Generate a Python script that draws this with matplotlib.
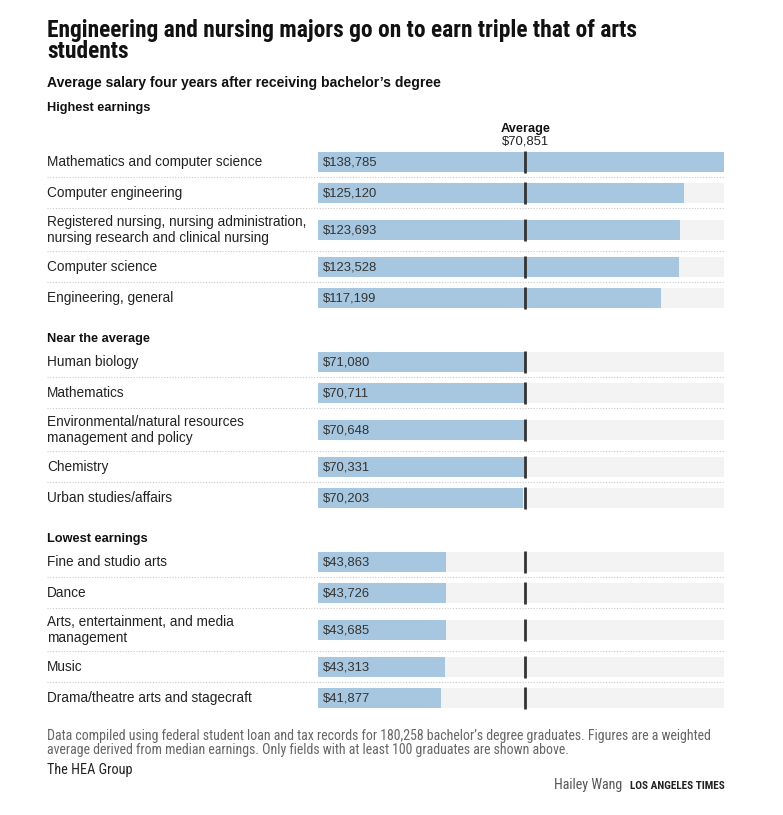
import matplotlib
matplotlib.use("Agg")
import matplotlib.pyplot as plt
import matplotlib.transforms as mtransforms
from matplotlib import font_manager

# data
groups = ["Highest earnings", "Near the average", "Lowest earnings"]
majors_high = ["Mathematics and computer science", "Computer engineering",
               "Registered nursing, nursing administration,\nnursing research and clinical nursing",
               "Computer science", "Engineering, general"]
salary_high = [138785, 125120, 123693, 123528, 117199]
majors_mid = ["Human biology", "Mathematics",
              "Environmental/natural resources\nmanagement and policy",
              "Chemistry", "Urban studies/affairs"]
salary_mid = [71080, 70711, 70648, 70331, 70203]
majors_low = ["Fine and studio arts", "Dance",
              "Arts, entertainment, and media\nmanagement",
              "Music", "Drama/theatre arts and stagecraft"]
salary_low = [43863, 43726, 43685, 43313, 41877]
average = 70851

W, H = 783, 815


def pick(names):
    have = {f.name for f in font_manager.fontManager.ttflist}
    for n in names:
        if n in have:
            return n
    return "DejaVu Sans"


NARROW = pick(["Liberation Sans Narrow", "Roboto Condensed", "Liberation Sans"])
REG = pick(["Liberation Sans", "Roboto"])
plt.rcParams["font.family"] = [REG, "DejaVu Sans"]
narrow = [NARROW, "DejaVu Sans"]


def fx(x):
    return x / W


def fy(y):
    return 1 - y / H


def pt(px):
    return px * 0.72


fig = plt.figure(figsize=(W / 100, H / 100), dpi=100)
fig.patch.set_facecolor("white")

# track axes, x in dollars, y in pixel rows from the top
top, bottom = 120, 720
ax = fig.add_axes([fx(318), fy(bottom), (724 - 318) / W, (bottom - top) / H])
ax.set_xlim(0, max(salary_high))
ax.set_ylim(bottom, top)
ax.axis("off")
lab_tr = mtransforms.blended_transform_factory(fig.transFigure, ax.transData)
val_tr = mtransforms.offset_copy(ax.transData, fig=fig, x=5, y=0, units="dots")

title_lines = ["Engineering and nursing majors go on to earn triple that of arts", "students"]
for k, line in enumerate(title_lines):
    fig.text(fx(47), fy(37 + 21 * k), line, family=narrow, fontsize=pt(23.5),
             fontweight="bold", color="#111111", va="baseline")
fig.text(fx(47), fy(83), "Average salary four years after receiving bachelor\u2019s degree",
         fontsize=pt(14), fontweight="bold", color="#111111", va="center")

group_tops = [146.5, 346.5, 546.5]
all_majors = [majors_high, majors_mid, majors_low]
all_salary = [salary_high, salary_mid, salary_low]

for g, name in enumerate(groups):
    ytop = group_tops[g]
    header_y = 108 if g == 0 else ytop - 7.5
    ax.text(fx(47), header_y, name, transform=lab_tr, fontsize=pt(12.8),
            fontweight="bold", color="#111111", va="center")
    majors = all_majors[g]
    values = all_salary[g]
    ys = []
    for i, m in enumerate(majors):
        h = 43 if "\n" in m else 31
        yc = ytop + h / 2
        ys.append(yc)
        ax.text(fx(47), yc, m, transform=lab_tr, fontsize=pt(13.6),
                color="#222222", va="center", linespacing=1.1)
        ax.text(0, yc + 0.5, "${:,}".format(values[i]), transform=val_tr,
                fontsize=pt(13), color="#333333", va="center")
        if i < len(majors) - 1:
            ax.plot([fx(47), fx(724)], [ytop + h, ytop + h], transform=lab_tr,
                    color="#c8c8c8", lw=0.8, ls=(0, (1, 1.5)), clip_on=False)
        ytop += h
    ax.barh(ys, max(salary_high), height=20, color="#f3f3f3", zorder=1)
    ax.barh(ys, values, height=20, color="#a7c7e0", zorder=2)
    ax.vlines([average] * len(ys), [y - 11 for y in ys], [y + 11 for y in ys],
              color="#333333", lw=2, zorder=3)

ax.text(average, 129, "Average", ha="center", va="center", fontsize=pt(12.8),
        fontweight="bold", color="#111111")
ax.text(average, 142, "${:,}".format(average), ha="center", va="center",
        fontsize=pt(13), color="#222222")

fig.text(fx(47), fy(736), "Data compiled using federal student loan and tax records for 180,258 "
         "bachelor\u2019s degree graduates. Figures are a weighted", fontsize=pt(13.9),
         color="#666666", va="center", family=narrow)
fig.text(fx(47), fy(750), "average derived from median earnings. Only fields with at least "
         "100 graduates are shown above.", fontsize=pt(13.9),
         color="#666666", va="center", family=narrow)
fig.text(fx(47), fy(770), "The HEA Group", fontsize=pt(14.2), color="#222222",
         va="center", family=narrow)
fig.text(fx(622), fy(785), "Hailey Wang", fontsize=pt(14), color="#555555",
         va="center", ha="right", family=narrow)
fig.text(fx(725), fy(786), "LOS ANGELES TIMES", fontsize=pt(11.3), color="#222222",
         va="center", ha="right", fontweight="bold", family=narrow)

fig.savefig("out.png", dpi=100, facecolor="white")
